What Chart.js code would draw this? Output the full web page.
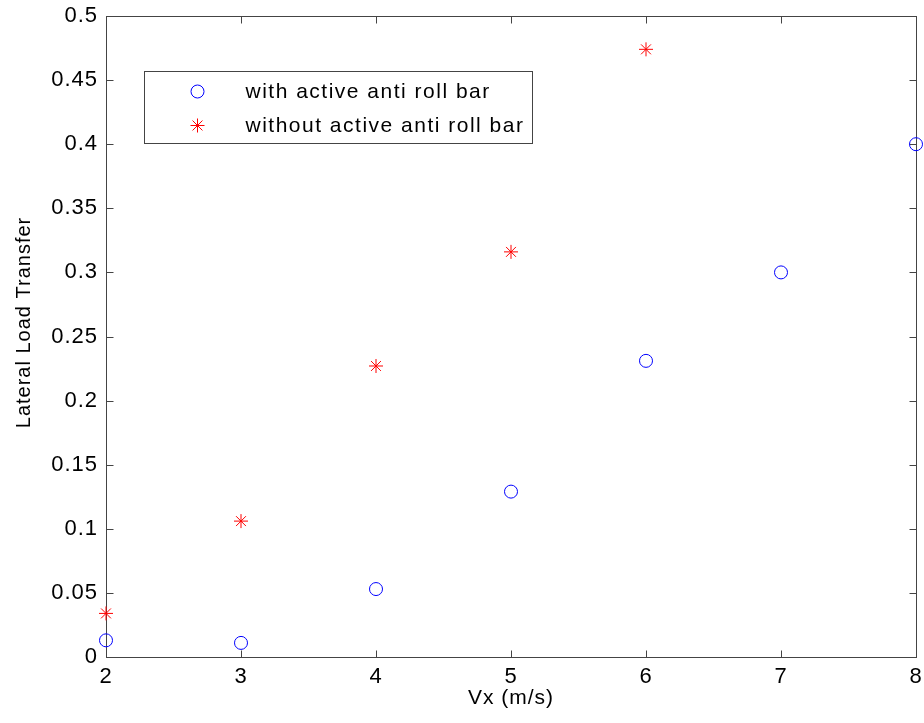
<!DOCTYPE html>
<html>
<head>
<meta charset="utf-8">
<title>Lateral Load Transfer</title>
<script src="https://cdn.jsdelivr.net/npm/chart.js@4.4.0/dist/chart.umd.min.js"></script>
<style>
    body { margin: 0; background: #fff; }
    #wrap { width: 924px; height: 723px; }
</style>
</head>
<body>
<div id="wrap"><canvas id="llt"></canvas></div>

<script type="text/javascript">
    // speed (m/s) vs lateral load transfer
    var speedsWith = [2, 3, 4, 5, 6, 7, 8];
    var withBar = [0.013, 0.011, 0.053, 0.129, 0.231, 0.300, 0.400];
    var speedsWithout = [2, 3, 4, 5, 6];
    var withoutBar = [0.034, 0.106, 0.227, 0.316, 0.474];
    var seriesNames = ['with active anti roll bar', 'without active anti roll bar'];
    var xTicks = [2, 3, 4, 5, 6, 7, 8];
    var yTicks = [0, 0.05, 0.1, 0.15, 0.2, 0.25, 0.3, 0.35, 0.4, 0.45, 0.5];
    var yTitle = 'Lateral Load Transfer';

    var FONT = '"Liberation Sans", Arial, sans-serif';

    function toPoints(xs, ys) {
        return xs.map(function (x, i) { return { x: x, y: ys[i] }; });
    }

    // box around the axes with inward ticks on all four sides, plus the legend
    var boxPlugin = {
        id: 'boxPlugin',
        beforeDraw: function (chart) {
            chart.ctx.letterSpacing = '1px';
        },
        beforeDatasetsDraw: function (chart) {
            var ctx = chart.ctx, a = chart.chartArea;
            var sx = chart.scales.x, sy = chart.scales.y;
            var L = Math.round(a.left) + 0.5, R = Math.round(a.right) + 0.5;
            var T = Math.round(a.top) + 0.5, B = Math.round(a.bottom) + 0.5;
            ctx.save();
            ctx.strokeStyle = '#444';
            ctx.lineWidth = 1;
            ctx.strokeRect(L, T, R - L, B - T);
            ctx.beginPath();
            xTicks.forEach(function (v) {
                var px = Math.round(sx.getPixelForValue(v)) + 0.5;
                ctx.moveTo(px, B); ctx.lineTo(px, B - 7);
                ctx.moveTo(px, T); ctx.lineTo(px, T + 7);
            });
            yTicks.forEach(function (v) {
                var py = Math.round(sy.getPixelForValue(v)) + 0.5;
                ctx.moveTo(L, py); ctx.lineTo(L + 7, py);
                ctx.moveTo(R, py); ctx.lineTo(R - 7, py);
            });
            ctx.stroke();

            // y axis title, sits a little above the middle of the axis
            ctx.translate(24, a.top + (a.bottom - a.top) / 2 - 14);
            ctx.rotate(-Math.PI / 2);
            ctx.font = '20px ' + FONT;
            ctx.fillStyle = '#000';
            ctx.textAlign = 'center';
            ctx.textBaseline = 'middle';
            ctx.fillText(yTitle, 0, 0);
            ctx.restore();
        },
        afterDraw: function (chart) {
            var ctx = chart.ctx, a = chart.chartArea;
            var bx = Math.round(a.left) + 38.5, by = Math.round(a.top) + 55.5;
            ctx.save();
            ctx.fillStyle = '#fff';
            ctx.fillRect(bx, by, 388, 72);
            ctx.strokeStyle = '#444';
            ctx.lineWidth = 1;
            ctx.strokeRect(bx, by, 388, 72);
            ctx.font = '21px ' + FONT;
            ctx.letterSpacing = '1.5px';
            ctx.textBaseline = 'middle';
            chart.data.datasets.forEach(function (ds, i) {
                var cy = by + 20 + i * 34;
                ctx.strokeStyle = ds.borderColor;
                ctx.fillStyle = 'rgba(0,0,0,0)';
                ctx.lineWidth = 1;
                Chart.helpers.drawPoint(ctx, {
                    pointStyle: ds.pointStyle,
                    radius: ds.pointRadius,
                    borderWidth: 1
                }, bx + 53, cy);
                ctx.fillStyle = '#000';
                ctx.fillText(ds.label, bx + 101, cy + 1);
            });
            ctx.restore();
        }
    };

    new Chart(document.getElementById('llt'), {
        type: 'scatter',
        data: {
            datasets: [
                {
                    label: seriesNames[0],
                    data: toPoints(speedsWith, withBar),
                    pointStyle: 'circle',
                    pointRadius: 6.5,
                    borderColor: '#0000ff',
                    backgroundColor: 'rgba(0,0,0,0)',
                    borderWidth: 1,
                    clip: false
                },
                {
                    label: seriesNames[1],
                    data: toPoints(speedsWithout, withoutBar),
                    pointStyle: 'star',
                    pointRadius: 7,
                    borderColor: '#ff0000',
                    backgroundColor: '#ff0000',
                    borderWidth: 1,
                    clip: false
                }
            ]
        },
        options: {
            responsive: true,
            maintainAspectRatio: false,
            animation: false,
            layout: { padding: { top: 16, right: 7, left: 0, bottom: 0 } },
            plugins: {
                legend: { display: false },
                tooltip: { enabled: false }
            },
            scales: {
                x: {
                    type: 'linear',
                    min: 2,
                    max: 8,
                    afterBuildTicks: function (s) { s.ticks = xTicks.map(function (v) { return { value: v }; }); },
                    afterFit: function (s) { s.height = 66; s.paddingLeft = 0; s.paddingRight = 0; },
                    grid: { display: false, drawTicks: false },
                    border: { display: false },
                    ticks: { color: '#000', padding: 7, font: { family: FONT, size: 22 } },
                    title: {
                        display: true,
                        text: 'Vx (m/s)',
                        color: '#000',
                        padding: { top: 0, bottom: 12 },
                        font: { family: FONT, size: 21 }
                    }
                },
                y: {
                    type: 'linear',
                    min: 0,
                    max: 0.5,
                    afterBuildTicks: function (s) { s.ticks = yTicks.map(function (v) { return { value: v }; }); },
                    afterFit: function (s) { s.width = 106; s.paddingTop = 0; s.paddingBottom = 0; },
                    grid: { display: false, drawTicks: false },
                    border: { display: false },
                    ticks: {
                        color: '#000',
                        padding: 8,
                        font: { family: FONT, size: 22 },
                        callback: function (v) { return String(v); }
                    }
                }
            }
        },
        plugins: [boxPlugin]
    });
</script>
</body>
</html>
